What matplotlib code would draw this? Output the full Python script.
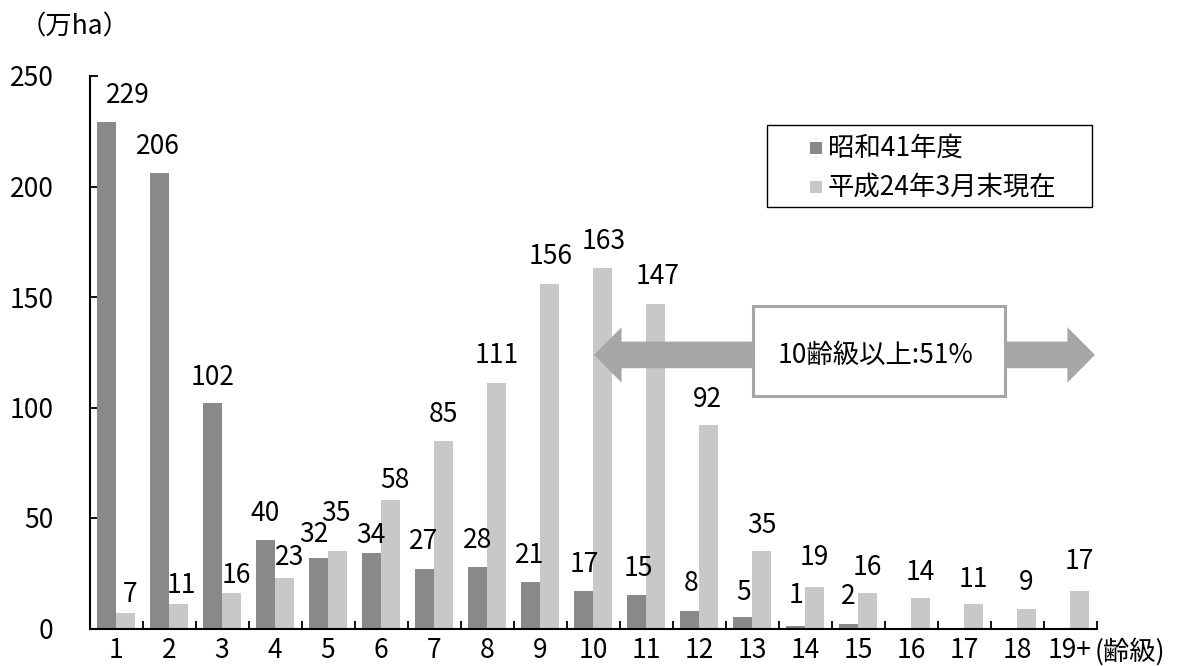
import numpy as np
import matplotlib
matplotlib.use("Agg")
import matplotlib.pyplot as plt
from matplotlib.patches import Rectangle, Polygon
from matplotlib.transforms import Affine2D

plt.rcParams['font.family'] = ['Noto Sans CJK JP', 'DejaVu Sans']

# ---- data -------------------------------------------------------------
age_classes = ['1', '2', '3', '4', '5', '6', '7', '8', '9', '10',
               '11', '12', '13', '14', '15', '16', '17', '18', '19+']
s41_area = [229, 206, 102, 40, 32, 34, 27, 28, 21, 17, 15, 8, 5, 1, 2,
            None, None, None, None]
h24_area = [7, 11, 16, 23, 35, 58, 85, 111, 156, 163, 147, 92, 35, 19, 16,
            14, 11, 9, 17]
series_names = ['昭和41年度', '平成24年3月末現在']
y_ticks = [0, 50, 100, 150, 200, 250]
share_text = '10齢級以上:51%'

# ---- label nudges (pixels) --------------------------------------------
s41_dx = [21, -2, 0, -1, -5, -1, -1, 0, -1, 1, 2, 1, 1, 0, 0]
s41_dy = [27, 27, 26, 27, 23, 18, 27, 26, 27, 26, 27, 27, 25, 31, 28]
h24_dx = [5, 3, 5, 5, -1, 5, 0, 0, 1, 1, 2, -1, 1, 0, 0, 0, 0, 0, 0]
h24_dy = [19, 19, 18, 20, 38, 20, 26, 28, 27, 27, 27, 26, 26, 29, 26, 25,
          25, 26, 29]

DARK = '#898989'
LIGHT = '#c8c8c8'
ARROW = '#a6a6a6'
FS = 19

W, H = 1188, 666
fig = plt.figure(figsize=(W / 100, H / 100), dpi=100)
ax = fig.add_axes([89.5 / W, (H - 628.5) / H, 1007 / W, 552.5 / H])
# pixel coordinates with origin at the top-left of the figure
px = Affine2D().scale(1 / W, -1 / H).translate(0, 1) + fig.transFigure

x = np.arange(1, len(age_classes) + 1)
bw = 0.352

idx_dark = [i for i, v in enumerate(s41_area) if v is not None]
dark_x = x[idx_dark] - bw / 2
dark_v = [s41_area[i] for i in idx_dark]
ax.bar(dark_x, dark_v, width=bw, color=DARK, zorder=2)
ax.bar(x + bw / 2, h24_area, width=bw, color=LIGHT, zorder=2)

for xi, v, dx, dy in zip(dark_x, dark_v, s41_dx, s41_dy):
    ax.annotate(f'{v}', xy=(xi, v), xytext=(dx, dy),
                textcoords='offset pixels', ha='center', va='center',
                fontsize=FS, zorder=5)
for xi, v, dx, dy in zip(x + bw / 2, h24_area, h24_dx, h24_dy):
    ax.annotate(f'{v}', xy=(xi, v), xytext=(dx, dy),
                textcoords='offset pixels', ha='center', va='center',
                fontsize=FS, zorder=5)

ax.set_xlim(0.5, len(age_classes) + 0.5)
ax.set_ylim(0, 250)
ax.set_yticks(y_ticks)
ax.set_yticklabels([str(t) for t in y_ticks], fontsize=FS)
ax.set_xticks(x)
ax.set_xticklabels(age_classes, fontsize=FS)
ax.set_xticks(np.arange(0.5, len(age_classes) + 1), minor=True)
ax.tick_params(axis='x', which='major', length=0, pad=6)
ax.tick_params(axis='x', which='minor', direction='in', length=6,
               width=1.3, color='black')
ax.tick_params(axis='y', direction='in', length=6, width=1.3, pad=26)
for side in ('top', 'right'):
    ax.spines[side].set_visible(False)
for side in ('left', 'bottom'):
    ax.spines[side].set_linewidth(1.5)
    ax.spines[side].set_color('black')

# double-headed arrow spanning age class 10 and above
ux = 1 / 53.0      # x data units per pixel
uy = 250 / 552.5   # y data units per pixel
xl, xr, yc = 10.02, 19.47, 123.8
sh, hh, hl = 13.3 * uy, 27.7 * uy, 27.5 * ux
arrow_pts = [(xl, yc), (xl + hl, yc + hh), (xl + hl, yc + sh),
             (xr - hl, yc + sh), (xr - hl, yc + hh), (xr, yc),
             (xr - hl, yc - hh), (xr - hl, yc - sh), (xl + hl, yc - sh),
             (xl + hl, yc - hh)]
ax.add_patch(Polygon(arrow_pts, closed=True, facecolor=ARROW,
                     edgecolor='none', zorder=6, clip_on=False))
ax.add_patch(Rectangle((13.02, 105.2), 4.75, 40.9, facecolor='white',
                       edgecolor=ARROW, linewidth=2.2, zorder=7,
                       clip_on=False))
ax.text(15.33, 123.8, share_text, ha='center', va='center', fontsize=FS,
        zorder=8)

# legend
fig.add_artist(Rectangle((767, 125), 325, 82, transform=px, fill=False,
                         edgecolor='black', linewidth=1.0))
for row_y, name, col in zip((148, 187), series_names, (DARK, LIGHT)):
    fig.add_artist(Rectangle((810, row_y - 6), 12, 12, transform=px,
                             facecolor=col, edgecolor='none'))
    fig.text(828, row_y, name, transform=px, ha='left', va='center',
             fontsize=FS)

# axis captions
fig.text(20, 27, '（万ha）', transform=px, ha='left', va='center',
         fontsize=FS)
fig.text(1095, 652, '(齢級)', transform=px, ha='left', va='center',
         fontsize=FS)

fig.savefig('out.png', dpi=100)
